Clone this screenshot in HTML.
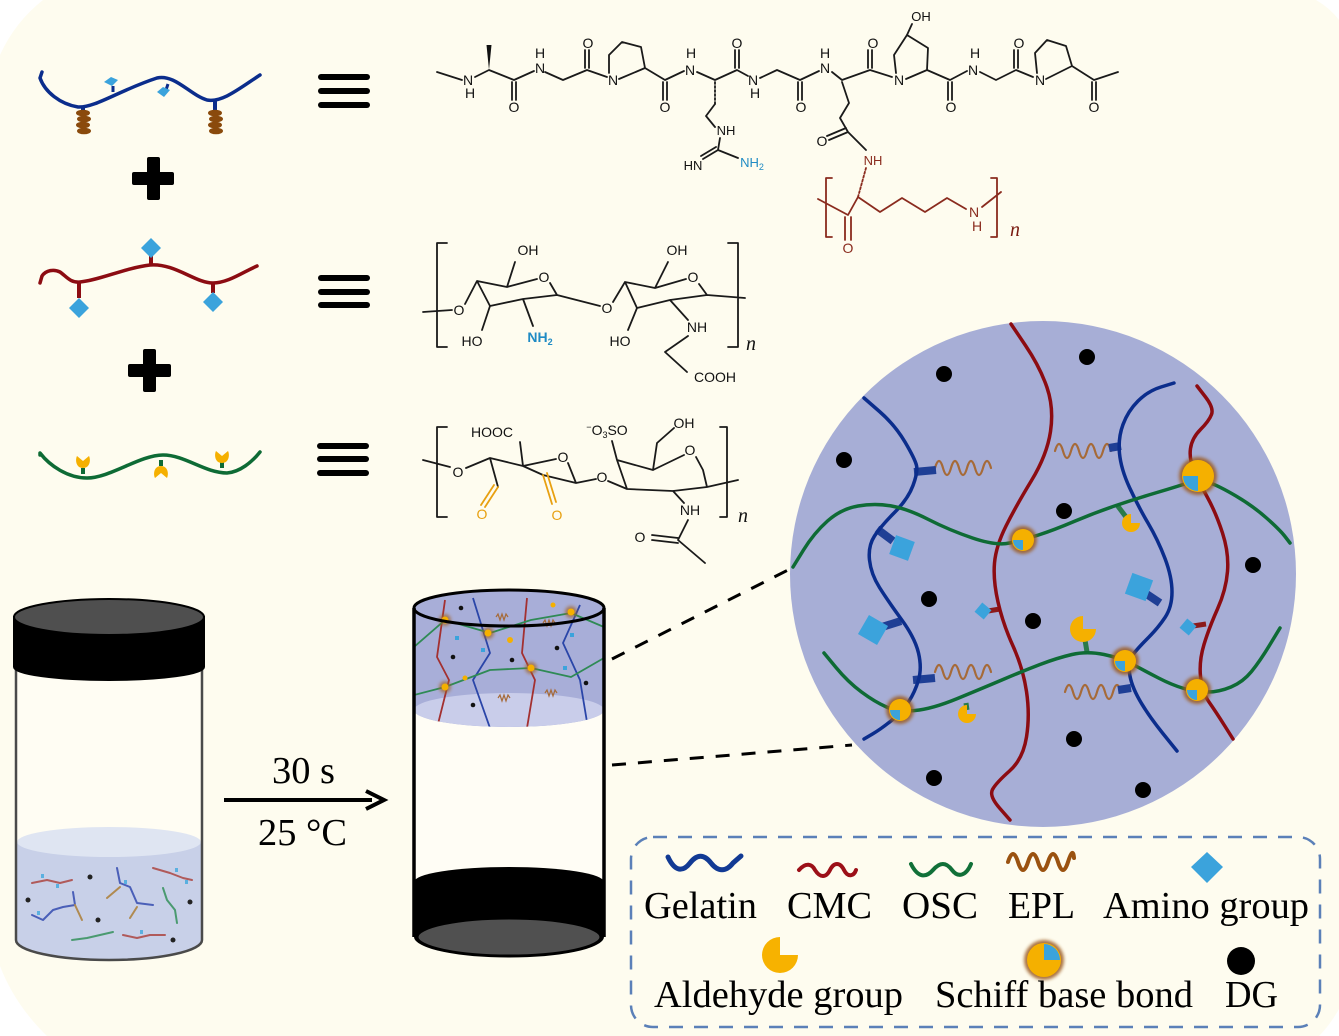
<!DOCTYPE html>
<html><head><meta charset="utf-8">
<style>
html,body{margin:0;padding:0;background:#fff;}
svg{display:block;}
.c{font-family:"Liberation Sans",Arial,sans-serif;font-size:14px;fill:#111;text-anchor:middle;}
.b{fill:none;stroke:#1a1a1a;stroke-width:1.8;stroke-linejoin:round;stroke-linecap:round;}
.e{fill:none;stroke:#8a2b1e;stroke-width:1.8;stroke-linejoin:round;stroke-linecap:round;}
.o{fill:none;stroke:#e8a010;stroke-width:1.8;stroke-linecap:round;}
.lg{font-family:"Liberation Serif","Times New Roman",serif;font-size:38px;fill:#000;}
.nn{font-family:"Liberation Serif","Times New Roman",serif;font-style:italic;font-size:20px;}
.ch{fill:none;stroke-width:3.5;stroke-linejoin:round;stroke-linecap:round;}
.sp{fill:none;stroke:#a66a38;stroke-width:2.2;stroke-linecap:round;}
</style></head><body>
<svg width="1339" height="1036" viewBox="0 0 1339 1036" xmlns="http://www.w3.org/2000/svg">
<defs>
<filter id="gl" x="-50%" y="-50%" width="200%" height="200%"><feGaussianBlur stdDeviation="1.6"/></filter>
<clipPath id="gel"><path d="M414,608 A95,18 0 0 1 604,608 L604,710 A95,17 0 0 1 414,710 Z"/></clipPath>
</defs>
<rect width="1339" height="1036" fill="#fff"/>
<path d="M43,0 L1316,0 Q1330,8 1339,20 L1339,1009 Q1330,1025 1319,1036 L47,1036 Q15,1005 0,966 L0,55 Q15,22 43,0 Z" fill="#fefcef"/>

<!-- ===== left schematic chains ===== -->
<!-- gelatin -->
<path d="M83,106 L83,112 M215,101 L215,110" stroke="#0b2d8c" stroke-width="4"/>
<g fill="#8a4a0c">
<ellipse cx="83" cy="113" rx="7" ry="3.3"/><ellipse cx="84" cy="119" rx="7" ry="3.3"/><ellipse cx="83" cy="125" rx="7" ry="3.3"/><ellipse cx="84" cy="131" rx="7" ry="3.3"/>
<ellipse cx="215" cy="113" rx="7" ry="3.3"/><ellipse cx="216" cy="119" rx="7" ry="3.3"/><ellipse cx="215" cy="125" rx="7" ry="3.3"/><ellipse cx="216" cy="131" rx="7" ry="3.3"/>
</g>
<path d="M42,72 L40,78 C45,92 60,104 78,107 C95,108 120,90 157,78 C175,74 190,95 207,100 C222,103 240,88 260,75" class="ch" stroke="#0b2d8c" stroke-width="6"/>
<path d="M113,86 L113,92 M168,84 L166,90" stroke="#0b2d8c" stroke-width="3"/>
<polygon points="104,82 111,77 118,80 112,86" fill="#3ba3dc"/>
<polygon points="157,92 163,87 170,90 164,97" fill="#3ba3dc"/>
<!-- plus 1 -->
<rect x="132" y="172" width="42" height="13" rx="2" fill="#000"/>
<rect x="147" y="157" width="13" height="43" rx="2" fill="#000"/>
<!-- CMC -->
<path d="M151,256 L151,266 M79,283 L79,298 M213,284 L213,293" stroke="#8c0c12" stroke-width="4"/>
<path d="M40,283 L42,276 C46,270 54,269 60,272 C66,276 70,283 80,282 C100,280 125,268 150,265 C175,263 195,283 213,283 C228,283 243,272 257,266" class="ch" stroke="#8c0c12" stroke-width="6"/>
<polygon points="141,248 151,238 161,248 151,258" fill="#3ba3dc"/>
<polygon points="69,308 79,298 89,308 79,318" fill="#3ba3dc"/>
<polygon points="203,302 213,292 223,302 213,312" fill="#3ba3dc"/>
<!-- plus 2 -->
<rect x="128" y="364" width="43" height="13" rx="2" fill="#000"/>
<rect x="143" y="349" width="13" height="43" rx="2" fill="#000"/>
<!-- OSC -->
<path d="M83,468 L83,474 M161,460 L161,466 M222,462 L222,468" stroke="#0e6b35" stroke-width="4"/>
<path d="M40,455 L40,453 C50,466 68,478 87,478 C110,478 140,455 163,455 C185,455 205,473 227,473 C240,472 252,462 260,452" class="ch" stroke="#0e6b35" stroke-width="6"/>
<path d="M83,468 C76,468 75,460 77,456 L83,461 L89,456 C91,460 90,468 83,468 Z" fill="#f5b000"/>
<path d="M222,463 C215,463 214,455 216,451 L222,456 L228,451 C230,455 229,463 222,463 Z" fill="#f5b000"/>
<path d="M161,466 C154,466 153,474 155,478 L161,473 L167,478 C169,474 168,466 161,466 Z" fill="#f5b000"/>
<!-- equals -->
<g fill="#000">
<rect x="318" y="74" width="52" height="6" rx="3"/><rect x="318" y="88" width="52" height="6" rx="3"/><rect x="318" y="102" width="52" height="6" rx="3"/>
<rect x="318" y="275" width="52" height="6" rx="3"/><rect x="318" y="289" width="52" height="6" rx="3"/><rect x="318" y="302" width="52" height="6" rx="3"/>
<rect x="317" y="443" width="52" height="6" rx="3"/><rect x="317" y="456" width="52" height="6" rx="3"/><rect x="317" y="470" width="52" height="6" rx="3"/>
</g>

<!-- ===== gelatin-EPL structure ===== -->
<path class="b" d="M437,72 L462,80 M475,77 L489,70 L514,80 L534,71 M545,72 L563,80 L587,70 L607,77 M609,73 L609,55 L622,42 L641,47 L645,68 L619,79 M645,68 L665,80 L684,71 M697,72 L715,80 L737,70 L748,76 M760,78 L777,70 L800,80 L819,71 M832,72 L842,80 L870,70 L892,77 M896,73 L894,55 L907,35 L928,48 L927,70 L906,79 M927,70 L950,80 L967,71 M980,72 L996,80 L1016,70 L1033,77 M1037,73 L1035,53 L1047,40 L1066,46 L1072,66 L1046,79 M1072,66 L1094,80 L1118,72"/>
<path class="b" d="M512,82 L512,100 M516,82 L516,100 M585,68 L585,50 M589,68 L589,50 M663,82 L663,100 M667,82 L667,100 M735,68 L735,50 M739,68 L739,50 M798,82 L798,100 M802,82 L802,100 M868,68 L868,50 M872,68 L872,50 M948,82 L948,100 M952,82 L952,100 M1014,68 L1014,50 M1018,68 L1018,50 M1092,82 L1092,100 M1096,82 L1096,100"/>
<polygon points="489,70 486.5,45 491.5,45" fill="#111"/>
<path class="b" d="M715,82 L715,104" stroke-dasharray="2 2" stroke-width="2.5"/>
<path class="b" d="M715,104 L706,116 L715,127 M720,138 L718,150 L738,158 M718,150 L703,159 M716,147 L701,156 M907,35 L912,24 M842,82 L849,103 L840,118 L848,132 L866,150 M848,132 L829,140 M846,128 L827,136"/>
<g class="c">
<text x="468" y="85">N</text><text x="470" y="98">H</text>
<text x="540" y="73">N</text><text x="540" y="58">H</text>
<text x="613" y="85">N</text>
<text x="690" y="75">N</text><text x="691" y="58">H</text>
<text x="753" y="85">N</text><text x="755" y="98">H</text>
<text x="825" y="73">N</text><text x="825" y="58">H</text>
<text x="899" y="85">N</text>
<text x="973" y="75">N</text><text x="975" y="58">H</text>
<text x="1040" y="85">N</text>
<text x="514" y="112">O</text><text x="588" y="48">O</text><text x="665" y="112">O</text><text x="737" y="48">O</text><text x="801" y="112">O</text><text x="873" y="48">O</text><text x="951" y="112">O</text><text x="1019" y="48">O</text><text x="1094" y="112">O</text>
<text x="921" y="21" font-size="13">OH</text>
<text x="726" y="135" font-size="13">NH</text>
<text x="693" y="170" font-size="13">HN</text>
<text x="752" y="167" font-size="13" fill="#1f8bc4">NH<tspan font-size="9" dy="3">2</tspan></text>
<text x="822" y="146">O</text>
<text x="873" y="165" font-size="13" fill="#8a2b1e">NH</text>
</g>
<!-- EPL -->
<path class="e" d="M866,168 L858,197" stroke-dasharray="2 2" stroke-width="2.5"/>
<path class="e" d="M858,197 L848,215 L818,199 M845,217 L845,240 M851,217 L851,240 M858,197 L880,212 L902,198 L925,212 L947,198 L966,209 M982,207 L1001,192 M832,178 L826,178 L826,237 L832,237 M991,178 L997,178 L997,237 L991,237"/>
<g class="c" fill="#8a2b1e"><text x="848" y="253" fill="#8a2b1e">O</text><text x="974" y="217" fill="#8a2b1e">N</text><text x="977" y="231" fill="#8a2b1e">H</text></g>
<text x="1010" y="236" class="nn" fill="#7a1a10">n</text>

<!-- ===== CMC structure ===== -->
<path class="b" d="M423,312 L452,310 M465,304 L477,281 L507,287 L537,279 M550,283 L557,295 L600,306 M477,281 L490,306 L523,299 L557,295 M507,287 L515,262 M490,306 L482,330 M523,299 L533,326 M613,302 L625,282 L655,288 L686,279 M699,284 L707,295 L745,298 M625,282 L637,308 L670,300 L707,295 M655,288 L668,262 M637,308 L628,330 M670,300 L688,320 M688,336 L665,352 L687,372 M447,243 L437,243 L437,347 L447,347 M728,243 L738,243 L738,347 L728,347"/>
<g class="c">
<text x="459" y="315">O</text><text x="528" y="255">OH</text><text x="544" y="282">O</text><text x="472" y="346">HO</text>
<text x="540" y="342" fill="#1f8bc4" font-weight="bold">NH<tspan font-size="9" dy="3">2</tspan></text>
<text x="607" y="313">O</text><text x="677" y="255">OH</text><text x="693" y="282">O</text><text x="620" y="346">HO</text><text x="697" y="332">NH</text><text x="715" y="382">COOH</text>
</g>
<text x="746" y="350" class="nn" fill="#111">n</text>

<!-- ===== OSC structure ===== -->
<path class="b" d="M423,460 L450,467 M466,468 L490,458 L523,466 L556,459 M523,466 L520,442 M490,458 L498,487 M568,463 L576,483 L596,479 M523,466 L543,475 L576,483 M608,481 L627,489 L673,491 L707,487 L738,480 M627,489 L617,460 L653,470 L684,455 M696,457 L703,470 L707,487 M617,460 L612,441 M653,470 L657,443 L674,428 M673,491 L684,503 M688,520 L678,540 L705,563 M678,538 L652,535 M678,543 L652,540 M447,427 L437,427 L437,517 L447,517 M720,427 L727,427 L727,517 L720,517"/>
<path class="o" d="M498,487 L485,507 M494,485 L481,505 M543,475 L552,504 M547,473 L556,502"/>
<g class="c">
<text x="458" y="477">O</text><text x="492" y="437">HOOC</text><text x="563" y="462">O</text>
<text x="482" y="519" fill="#e8a010">O</text><text x="557" y="520" fill="#e8a010">O</text>
<text x="602" y="482">O</text>
<text x="607" y="435"><tspan font-size="9" dy="-5">−</tspan><tspan dy="5">O</tspan><tspan font-size="9" dy="3">3</tspan><tspan dy="-3">SO</tspan></text>
<text x="684" y="428">OH</text><text x="690" y="455">O</text><text x="690" y="515">NH</text><text x="640" y="542">O</text>
</g>
<text x="738" y="522" class="nn" fill="#111">n</text>

<!-- ===== left vial ===== -->
<path d="M16,667 L16,940 A93,20 0 0 0 202,940 L202,667 Z" fill="#fffdf3"/>
<path d="M17,842 L17,940 A92,20 0 0 0 201,940 L201,842 Z" fill="#c8d0e8"/>
<ellipse cx="109" cy="842" rx="92" ry="15" fill="#dfe5f2"/>
<g fill="none" stroke-width="2" stroke-linecap="round" stroke-linejoin="round">
<polyline points="32,883 47,880 60,883 72,880" stroke="#b05a5a"/>
<polyline points="153,868 170,873 183,878 192,880" stroke="#b05a5a"/>
<polyline points="123,935 137,938 150,935 165,935" stroke="#b05a5a"/>
<polyline points="32,915 43,920 53,910 63,907 75,905 73,892" stroke="#4a5fb8"/>
<polyline points="117,868 120,883 130,887 137,903 153,905" stroke="#4a5fb8"/>
<polyline points="75,905 82,920" stroke="#b08a50"/>
<polyline points="120,887 107,898" stroke="#b08a50"/>
<polyline points="137,907 130,918" stroke="#b08a50"/>
<polyline points="163,888 167,900 175,910 177,923" stroke="#4a9a70"/>
<polyline points="72,940 87,938 100,935 113,932" stroke="#4a9a70"/>
</g>
<g fill="#5ab0e0"><rect x="41" y="874" width="3" height="4"/><rect x="56" y="884" width="3" height="4"/><rect x="175" y="868" width="3" height="4"/><rect x="185" y="880" width="3" height="4"/><rect x="140" y="930" width="3" height="4"/><rect x="37" y="911" width="3" height="4"/><rect x="124" y="880" width="3" height="4"/></g>
<g fill="#222"><circle cx="90" cy="877" r="2.5"/><circle cx="28" cy="900" r="2.5"/><circle cx="98" cy="920" r="2.5"/><circle cx="190" cy="902" r="2.5"/><circle cx="173" cy="940" r="2.5"/></g>
<path d="M16,667 L16,940 A93,20 0 0 0 202,940 L202,667" fill="none" stroke="#4a4a4a" stroke-width="2.5"/>
<path d="M14,617 L14,667 A95,13 0 0 0 204,667 L204,617 Z" fill="#000" stroke="#000" stroke-width="2"/>
<ellipse cx="109" cy="617" rx="95" ry="18" fill="#4f4f4f" stroke="#000" stroke-width="2"/>

<!-- arrow -->
<line x1="224" y1="800" x2="372" y2="800" stroke="#000" stroke-width="4"/>
<path d="M366,791 L384,800 L366,809" fill="none" stroke="#000" stroke-width="4" stroke-linejoin="miter"/>
<text x="272" y="783" class="lg" textLength="63" lengthAdjust="spacingAndGlyphs">30 s</text>
<text x="258" y="845" class="lg" textLength="89" lengthAdjust="spacingAndGlyphs">25 °C</text>

<!-- ===== right vial ===== -->
<path d="M414,608 L414,882 L604,882 L604,608 Z" fill="#fffdf5"/>
<g clip-path="url(#gel)">
<rect x="410" y="585" width="200" height="150" fill="#a8aed8"/>
<ellipse cx="509" cy="710" rx="95" ry="17" fill="#c9cdea"/>
<g fill="none" stroke-width="1.8" stroke-linejoin="round">
<polyline points="445,600 437,657 449,680 437,728" stroke="#a33030"/>
<polyline points="527,598 522,653 535,680 527,728" stroke="#a33030"/>
<polyline points="473,598 490,653 473,680 490,728" stroke="#2a45a8"/>
<polyline points="580,605 563,643 580,680 588,728" stroke="#2a45a8"/>
<polyline points="414,647 445,620 490,633 531,620 571,613 604,627" stroke="#2f8a55"/>
<polyline points="414,695 445,687 490,670 531,668 571,677 604,658" stroke="#2f8a55"/>
</g>
<g fill="none" stroke="#a66a38" stroke-width="1.2">
<path d="M496,617 l2,-3 l2,6 l2,-6 l2,6 l2,-6 l2,3"/><path d="M543,623 l2,-3 l2,6 l2,-6 l2,6 l2,-6 l2,3"/>
<path d="M498,698 l2,-3 l2,6 l2,-6 l2,6 l2,-6 l2,3"/><path d="M545,693 l2,-3 l2,6 l2,-6 l2,6 l2,-6 l2,3"/>
</g>
<g><circle cx="445" cy="620" r="6" fill="#a0642a" opacity=".7" filter="url(#gl)"/><circle cx="445" cy="620" r="3.5" fill="#f5b000"/>
<circle cx="488" cy="633" r="6" fill="#a0642a" opacity=".7" filter="url(#gl)"/><circle cx="488" cy="633" r="3.5" fill="#f5b000"/>
<circle cx="571" cy="612" r="6" fill="#a0642a" opacity=".7" filter="url(#gl)"/><circle cx="571" cy="612" r="3.5" fill="#f5b000"/>
<circle cx="531" cy="668" r="6" fill="#a0642a" opacity=".7" filter="url(#gl)"/><circle cx="531" cy="668" r="3.5" fill="#f5b000"/>
<circle cx="445" cy="687" r="6" fill="#a0642a" opacity=".7" filter="url(#gl)"/><circle cx="445" cy="687" r="3.5" fill="#f5b000"/></g>
<g fill="#3ba3dc"><rect x="455" y="636" width="4" height="4"/><rect x="481" y="648" width="4" height="4"/><rect x="570" y="633" width="4" height="4"/><rect x="563" y="666" width="4" height="4"/></g>
<g fill="#f5b000"><circle cx="510" cy="640" r="3"/><circle cx="465" cy="678" r="2.5"/><circle cx="553" cy="605" r="2.5"/></g>
<g fill="#111"><circle cx="461" cy="608" r="2.3"/><circle cx="453" cy="657" r="2.3"/><circle cx="512" cy="660" r="2.3"/><circle cx="557" cy="648" r="2.3"/><circle cx="586" cy="683" r="2.3"/><circle cx="473" cy="705" r="2.3"/></g>
</g>
<path d="M414,882 A95,15 0 0 1 604,882 L604,937 A95,20 0 0 1 414,937 Z" fill="#000"/>
<ellipse cx="509" cy="937" rx="92" ry="19" fill="#505050" stroke="#000" stroke-width="3"/>
<path d="M414,608 L414,937 M604,608 L604,937" stroke="#000" stroke-width="3.5"/>
<ellipse cx="509" cy="608" rx="95" ry="18" fill="none" stroke="#000" stroke-width="3"/>

<!-- dashed connectors -->
<path d="M612,659 L790,569 M612,765 L852,745" stroke="#000" stroke-width="3" stroke-dasharray="14 12"/>

<!-- ===== magnified circle ===== -->
<circle cx="1043" cy="574" r="253" fill="#a7aed6"/>
<!-- springs + connectors -->
<path class="sp" d="M935,468 Q939,454 943,468 T951,468 T959,468 T967,468 T975,468 T983,468 T991,468"/>
<path class="sp" d="M1055,451 Q1059,437 1063,451 T1071,451 T1079,451 T1087,451 T1095,451 T1103,451 T1111,451"/>
<path class="sp" d="M935,672 Q939,658 943,672 T951,672 T959,672 T967,672 T975,672 T983,672 T991,672"/>
<path class="sp" d="M1065,692 Q1069,678 1073,692 T1081,692 T1089,692 T1097,692 T1105,692 T1113,692 T1121,692"/>
<g stroke="#1f3f95" stroke-width="8">
<line x1="914" y1="472" x2="936" y2="470"/><line x1="1109" y1="448" x2="1121" y2="446"/>
<line x1="913" y1="680" x2="935" y2="678"/><line x1="1118" y1="690" x2="1131" y2="688"/>
<line x1="877" y1="529" x2="893" y2="541"/><line x1="901" y1="621" x2="882" y2="627"/><line x1="1160" y1="603" x2="1145" y2="593"/>
</g>
<g stroke="#8c1a1a" stroke-width="5"><line x1="1000" y1="609" x2="988" y2="611"/><line x1="1206" y1="624" x2="1193" y2="626"/></g>
<g stroke="#2a7a4a" stroke-width="5"><line x1="1117" y1="505" x2="1126" y2="517"/><line x1="1087" y1="652" x2="1085" y2="640"/><line x1="966" y1="703" x2="967" y2="710"/></g>
<!-- chains (smoothed) -->
<path class="ch" stroke="#8c0c12" d="M1011,324 L1025.5,345.5 Q1040,367 1047,387.5 Q1054,408 1050.5,431.5 Q1047,455 1031.5,480.5 Q1016,506 1006,526 Q996,546 994.5,563 Q993,580 998,602 Q1003,624 1013,646 Q1023,668 1026.5,691.5 Q1030,715 1026.5,737 Q1023,759 1009.5,771 Q996,783 992.5,789.5 Q989,796 999.5,808 L1010,820"/>
<path class="ch" stroke="#8c0c12" d="M1197,386 L1205.5,397 Q1214,408 1211.5,414.5 Q1209,421 1200.5,429.5 Q1192,438 1190.5,448.5 Q1189,459 1194,470.5 Q1199,482 1207.5,497.5 Q1216,513 1222.5,533 Q1229,553 1227.5,571.5 Q1226,590 1217.5,609 Q1209,628 1204,644.5 Q1199,661 1200.5,676.5 Q1202,692 1209,702 Q1216,712 1224.5,725.5 L1233,739"/>
<path class="ch" stroke="#0b2d8c" d="M864,398 L879.5,411.5 Q895,425 905,442 Q915,459 916.5,465.5 Q918,472 913,485.5 Q908,499 894.5,512.5 Q881,526 874.5,536 Q868,546 869.5,560 Q871,574 879.5,587.5 Q888,601 901.5,619.5 Q915,638 918.5,653 Q922,668 918.5,680 Q915,692 908.5,702 Q902,712 891.5,720.5 Q881,729 872.5,734 L864,739"/>
<path class="ch" stroke="#0b2d8c" d="M1174,383 L1161,387 Q1148,391 1138,401 Q1128,411 1123,424.5 Q1118,438 1119.5,453.5 Q1121,469 1129.5,487.5 Q1138,506 1148,523 Q1158,540 1165,558.5 Q1172,577 1172,592 Q1172,607 1165,617.5 Q1158,628 1148,638 Q1138,648 1133,654.5 Q1128,661 1129.5,673 Q1131,685 1139.5,700 Q1148,715 1162.5,733 L1177,751"/>
<path class="ch" stroke="#0e6b35" d="M793,567 L803.5,550 Q814,533 827.5,521 Q841,509 858,506 Q875,503 891.5,506 Q908,509 928.5,519.5 Q949,530 972.5,538 Q996,546 1009.5,543 Q1023,540 1038.5,535 Q1054,530 1074,521.5 Q1094,513 1114.5,506 Q1135,499 1157,492.5 Q1179,486 1189,482.5 Q1199,479 1209,482.5 Q1219,486 1236,496 Q1253,506 1266.5,518 Q1280,530 1285,536.5 L1290,543"/>
<path class="ch" stroke="#0e6b35" d="M824,653 L836,667.5 Q848,682 861.5,692 Q875,702 886.5,707 Q898,712 915,710.5 Q932,709 957.5,698.5 Q983,688 1003,679.5 Q1023,671 1040,664.5 Q1057,658 1072,654.5 Q1087,651 1104,654.5 Q1121,658 1133,664.5 Q1145,671 1158.5,678 Q1172,685 1184,688.5 Q1196,692 1207.5,692 Q1219,692 1231,687 Q1243,682 1251.5,671.5 Q1260,661 1270,644.5 L1280,628"/>
<!-- diamonds -->
<g fill="#3ba3dc">
<rect x="-10" y="-10" width="20" height="20" transform="translate(902,548) rotate(20)"/>
<rect x="-11" y="-11" width="22" height="22" transform="translate(873,630) rotate(30)"/>
<rect x="-11" y="-11" width="22" height="22" transform="translate(1139,587) rotate(20)"/>
<rect x="-6" y="-6" width="12" height="12" transform="translate(983,611) rotate(40)"/>
<rect x="-6" y="-6" width="12" height="12" transform="translate(1188,627) rotate(40)"/>
</g>
<!-- aldehydes -->
<g fill="#f5b000">
<path d="M1131,523 L1131,514 A9,9 0 1 0 1140,523 Z"/>
<path d="M1083,629 L1083,616 A13,13 0 1 0 1096,629 Z"/>
<path d="M967,714 L967,705 A9,9 0 1 0 976,714 Z"/>
</g>
<!-- schiff bonds -->
<g>
<circle cx="1198" cy="476" r="19" fill="#9c5c22" opacity=".85" filter="url(#gl)"/>
<circle cx="1198" cy="476" r="16" fill="#f5b000"/><path d="M1198,476 L1183,476 A15,15 0 0 0 1198,491 Z" fill="#3ba3dc"/>
<circle cx="1023" cy="540" r="14" fill="#9c5c22" opacity=".85" filter="url(#gl)"/>
<circle cx="1023" cy="540" r="11" fill="#f5b000"/><path d="M1023,540 L1013,540 A10,10 0 0 0 1023,550 Z" fill="#3ba3dc"/>
<circle cx="1125" cy="661" r="14" fill="#9c5c22" opacity=".85" filter="url(#gl)"/>
<circle cx="1125" cy="661" r="11" fill="#f5b000"/><path d="M1125,661 L1115,661 A10,10 0 0 0 1125,671 Z" fill="#3ba3dc"/>
<circle cx="1197" cy="690" r="14" fill="#9c5c22" opacity=".85" filter="url(#gl)"/>
<circle cx="1197" cy="690" r="11" fill="#f5b000"/><path d="M1197,690 L1187,690 A10,10 0 0 0 1197,700 Z" fill="#3ba3dc"/>
<circle cx="900" cy="710" r="14" fill="#9c5c22" opacity=".85" filter="url(#gl)"/>
<circle cx="900" cy="710" r="11" fill="#f5b000"/><path d="M900,710 L890,710 A10,10 0 0 0 900,720 Z" fill="#3ba3dc"/>
</g>
<!-- DG dots -->
<g fill="#000">
<circle cx="944" cy="374" r="8"/><circle cx="1087" cy="357" r="8"/><circle cx="844" cy="460" r="8"/><circle cx="1064" cy="511" r="8"/><circle cx="1253" cy="565" r="8"/><circle cx="929" cy="599" r="8"/><circle cx="1033" cy="621" r="8"/><circle cx="1074" cy="739" r="8"/><circle cx="934" cy="778" r="8"/><circle cx="1143" cy="790" r="8"/>
</g>

<!-- ===== legend ===== -->
<rect x="631" y="837" width="689" height="190" rx="22" fill="none" stroke="#5b80b8" stroke-width="2.5" stroke-dasharray="14 11"/>
<path d="M668,857 C675,872 683,872 690,863 C697,854 704,854 711,863 C718,872 726,872 733,863 L741,856" fill="none" stroke="#123a94" stroke-width="5" stroke-linecap="round"/>
<path d="M799,870 C806,862 812,864 815,870 C820,878 826,878 830,870 C834,862 840,862 844,870 C848,878 854,876 856,870" fill="none" stroke="#9c1018" stroke-width="4" stroke-linecap="round"/>
<path d="M911,864 C918,878 926,878 933,870 C940,862 946,862 952,870 C958,878 966,876 971,864" fill="none" stroke="#117038" stroke-width="4" stroke-linecap="round"/>
<path d="M1008,862 Q1013,846 1018,862 T1028,862 T1038,862 T1048,862 T1058,862 T1068,862 T1074,858" fill="none" stroke="#9a5210" stroke-width="4" stroke-linecap="round"/>
<polygon points="1207,852 1223,867 1207,883 1191,867" fill="#3ba3dc"/>
<text x="644" y="918" class="lg" textLength="113" lengthAdjust="spacingAndGlyphs">Gelatin</text>
<text x="787" y="918" class="lg" textLength="85" lengthAdjust="spacingAndGlyphs">CMC</text>
<text x="902" y="918" class="lg" textLength="76" lengthAdjust="spacingAndGlyphs">OSC</text>
<text x="1008" y="918" class="lg" textLength="67" lengthAdjust="spacingAndGlyphs">EPL</text>
<text x="1103" y="918" class="lg" textLength="206" lengthAdjust="spacingAndGlyphs">Amino group</text>
<path d="M780,955 L780,937 A18,18 0 1 0 798,955 Z" fill="#f7b200"/>
<circle cx="1044" cy="960" r="20" fill="#9c5c22" opacity=".85" filter="url(#gl)"/>
<circle cx="1044" cy="960" r="17" fill="#f5b000"/>
<path d="M1044,960 L1044,944 A16,16 0 0 1 1060,960 Z" fill="#3ba3dc"/>
<circle cx="1241" cy="961" r="14" fill="#000"/>
<text x="654" y="1007" class="lg" textLength="249" lengthAdjust="spacingAndGlyphs">Aldehyde group</text>
<text x="935" y="1007" class="lg" textLength="258" lengthAdjust="spacingAndGlyphs">Schiff base bond</text>
<text x="1225" y="1007" class="lg" textLength="53" lengthAdjust="spacingAndGlyphs">DG</text>
</svg>
</body></html>
